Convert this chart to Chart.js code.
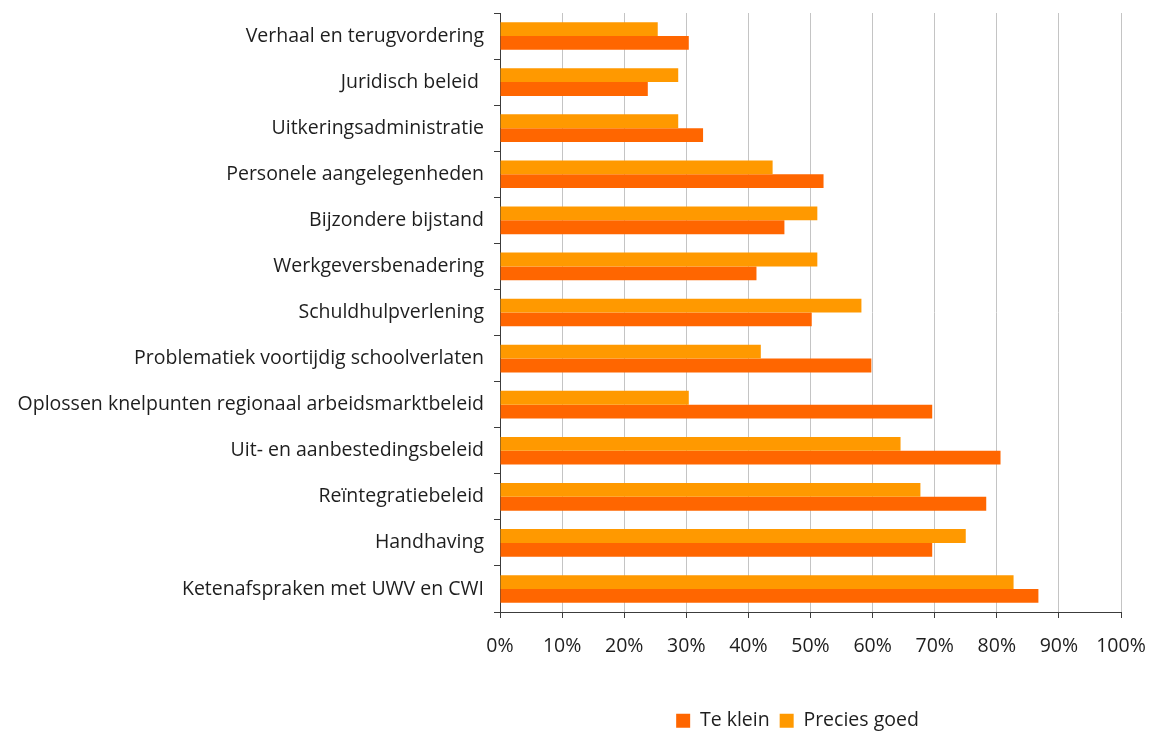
<!DOCTYPE html>
<html>
<head>
<meta charset="utf-8">
<script src="https://cdn.jsdelivr.net/npm/chart.js@4"></script>
<style>
  html, body { margin: 0; padding: 0; background: #fff; }
  #wrap { width: 1152px; height: 731px; }
</style>
</head>
<body>
<div id="wrap"><canvas id="barChart" width="1152" height="731"></canvas></div>
<script>
const categories = [
    'Verhaal en terugvordering',
    'Juridisch beleid ',
    'Uitkeringsadministratie',
    'Personele aangelegenheden',
    'Bijzondere bijstand',
    'Werkgeversbenadering',
    'Schuldhulpverlening',
    'Problematiek voortijdig schoolverlaten',
    'Oplossen knelpunten regionaal arbeidsmarktbeleid',
    'Uit- en aanbestedingsbeleid',
    'Reïntegratiebeleid',
    'Handhaving',
    'Ketenafspraken met UWV en CWI'
];
const teKlein = [30.4, 23.8, 32.7, 52.1, 45.8, 41.3, 50.2, 59.8, 69.6, 80.6, 78.3, 69.6, 86.7];
const preciesGoed = [25.4, 28.7, 28.7, 43.9, 51.1, 51.1, 58.2, 42.0, 30.4, 64.5, 67.7, 75.0, 82.7];
const xTicks = [0, 10, 20, 30, 40, 50, 60, 70, 80, 90, 100];

const fontFamily = '"Open Sans", "DejaVu Sans", sans-serif';
const fontSize = 19.5;
const textColor = '#1e1e1e';
const axisColor = '#3c3c3c';

Chart.defaults.font.family = fontFamily;
Chart.defaults.font.size = fontSize;
Chart.defaults.color = textColor;

// nudge the legend a bit left, it sits slightly off the plot centre in the original
const legendShift = {
    id: 'legendShift',
    afterLayout(chart) {
        if (chart.legend) {
            chart.legend.left -= 13;
            chart.legend.right -= 13;
        }
    }
};

const ctx = document.getElementById('barChart').getContext('2d');
const chart = new Chart(ctx, {
    type: 'bar',
    data: {
        labels: categories,
        datasets: [{
            label: 'Precies goed',
            data: preciesGoed,
            backgroundColor: '#FF9900',
            borderWidth: 0
        }, {
            label: 'Te klein',
            data: teKlein,
            backgroundColor: '#FF6600',
            borderWidth: 0
        }]
    },
    options: {
        indexAxis: 'y',
        responsive: false,
        animation: false,
        categoryPercentage: 0.6,
        barPercentage: 1.0,
        layout: {
            padding: { top: 13, right: 31, left: 0, bottom: 0 }
        },
        plugins: {
            tooltip: { enabled: false },
            legend: {
                position: 'bottom',
                fullSize: false,
                maxHeight: 30,
                labels: {
                    boxWidth: 14,
                    boxHeight: 14,
                    padding: 10,
                    color: textColor,
                    font: { size: fontSize },
                    sort: (a, b) => b.datasetIndex - a.datasetIndex
                }
            }
        },
        scales: {
            x: {
                min: 0,
                max: 100,
                afterBuildTicks: (scale) => {
                    scale.ticks = xTicks.map(v => ({ value: v }));
                },
                afterFit: (scale) => {
                    scale.height = 89;
                    scale.paddingLeft = 0;
                    scale.paddingRight = 0;
                },
                ticks: {
                    padding: 17,
                    color: textColor,
                    font: { size: fontSize },
                    callback: (v) => v + '%'
                },
                grid: {
                    color: '#c4c4c4',
                    lineWidth: 1,
                    tickColor: axisColor,
                    tickLength: 6
                },
                border: { color: axisColor, width: 1 }
            },
            y: {
                afterFit: (scale) => {
                    scale.width = 500;
                    scale.paddingTop = 0;
                    scale.paddingBottom = 0;
                },
                ticks: {
                    padding: 10,
                    color: textColor,
                    font: { size: fontSize }
                },
                grid: {
                    drawOnChartArea: false,
                    tickColor: axisColor,
                    tickLength: 6,
                    offset: true
                },
                border: { color: axisColor, width: 1 }
            }
        }
    },
    plugins: [legendShift]
});
</script>
</body>
</html>
